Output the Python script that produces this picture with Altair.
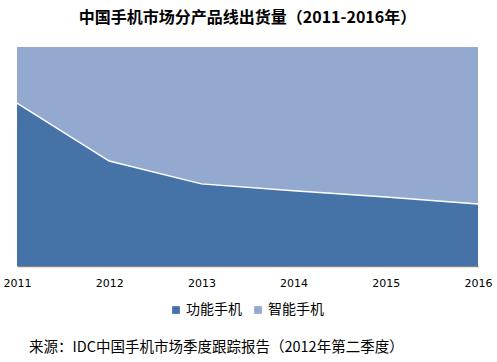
import altair as alt
import pandas as pd

years = [2011, 2012, 2013, 2014, 2015, 2016]
feature_share = [74.4, 47.9, 37.5, 34.4, 31.5, 28.3]
smart_share = [25.6, 52.1, 62.5, 65.6, 68.5, 71.7]
series = ["功能手机", "智能手机"]
colors = ["#4572A7", "#93A9CF"]
title_text = "中国手机市场分产品线出货量（2011-2016年）"
source_text = "来源：IDC中国手机市场季度跟踪报告（2012年第二季度）"

rows = []
for i, y in enumerate(years):
    rows.append({"year": y, "series": series[0], "value": feature_share[i], "ord": 0})
    rows.append({"year": y, "series": series[1], "value": smart_share[i], "ord": 1})
df = pd.DataFrame(rows)
line_df = pd.DataFrame({"year": years, "value": feature_share})
src_df = pd.DataFrame({"t": [source_text]})

x_enc = alt.X("year:Q", scale=alt.Scale(domain=[2011, 2016], nice=False, zero=False),
              axis=alt.Axis(values=years, format="d", title=None, grid=False, ticks=False,
                            domainColor="#888888", domainWidth=1.5, labelPadding=11,
                            labelFont="DejaVu Sans", labelFontSize=11, labelColor="#000000",
                            labelFlush=False))

area = alt.Chart(df).mark_area(opacity=1).encode(
    x=x_enc,
    y=alt.Y("value:Q", stack="zero", scale=alt.Scale(domain=[0, 100], nice=False), axis=None),
    color=alt.Color("series:N", scale=alt.Scale(domain=series, range=colors),
                    legend=alt.Legend(title=None, orient="none", legendX=152, legendY=256,
                                      direction="horizontal", symbolType="square", symbolSize=60,
                                      symbolStrokeWidth=0, labelFont="Noto Sans CJK SC",
                                      labelFontSize=14, labelColor="#000000", columnPadding=9,
                                      symbolOffset=0, labelOffset=3)),
    order=alt.Order("ord:Q"),
)

line = alt.Chart(line_df).mark_line(color="#FFFFFF", strokeWidth=1.5).encode(
    x=alt.X("year:Q"),
    y=alt.Y("value:Q"),
)

src = alt.Chart(src_df).mark_text(align="left", baseline="middle", font="Noto Sans CJK SC",
                                  fontSize=14.5, color="#000000").encode(
    x=alt.value(12), y=alt.value(301), text="t:N"
)

chart = alt.layer(area, line, src).properties(
    width=461, height=219,
    autosize=alt.AutoSizeParams(type="none"),
    padding={"left": 17, "top": 47, "right": 19, "bottom": 96},
    title=alt.TitleParams(title_text, font="Noto Sans CJK SC", fontSize=16, fontWeight="bold",
                          color="#000000", anchor="middle", offset=21),
).configure_view(stroke=None)

chart.save("out.html", embed_options={"renderer": "svg", "actions": False})
